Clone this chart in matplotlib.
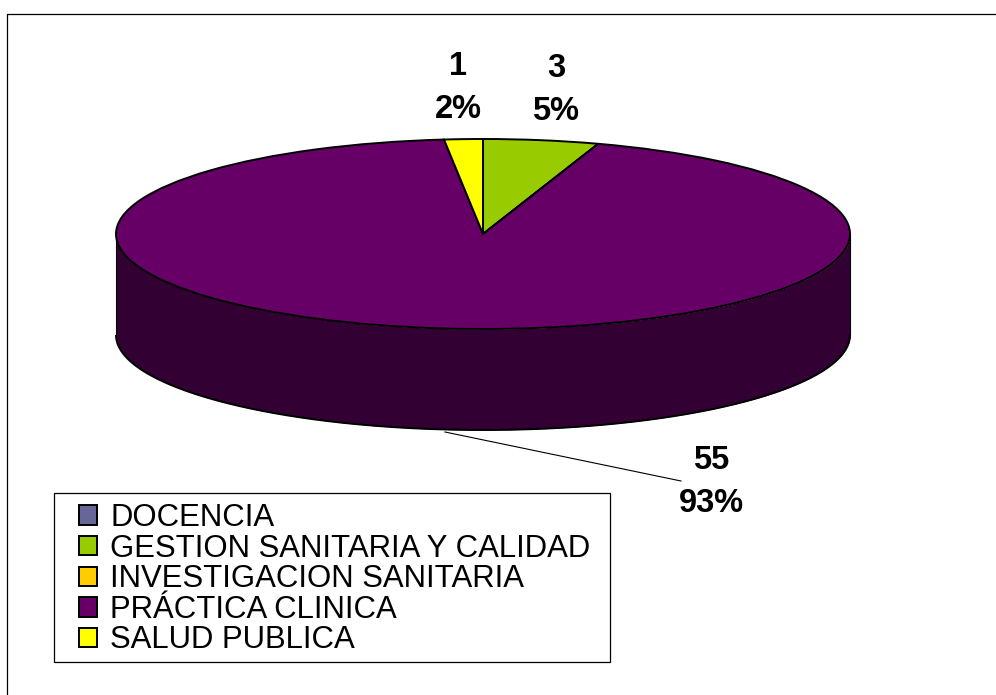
import numpy as np
import matplotlib
matplotlib.use('Agg')
import matplotlib.pyplot as plt
from matplotlib.patches import Patch, Rectangle
from matplotlib.transforms import Affine2D

categories = ['DOCENCIA', 'GESTION SANITARIA Y CALIDAD', 'INVESTIGACION SANITARIA',
              'PRÁCTICA CLINICA', 'SALUD PUBLICA']
values = [0, 3, 0, 55, 1]
colors = ['#666699', '#99CC00', '#FFCC00', '#660066', '#FFFF00']
side_color = '#330033'

W, H = 996, 695
cx, cy = 483, 234      # pie centre in pixels
rx, ry = 367, 95       # ellipse radii
depth = 101

plt.rcParams['font.family'] = ['Liberation Sans', 'DejaVu Sans']
fig = plt.figure(figsize=(W / 100, H / 100), dpi=100)
ax = fig.add_axes([0, 0, 1, 1])

# pixel coords, y going down
px = Affine2D().scale(1 / W, -1 / H).translate(0, 1) + fig.transFigure

# side of the pie
t = np.linspace(0, np.pi, 300)
xs = np.cos(t)
low = -np.sin(t)
d = depth / ry
ax.fill_between(xs, low, low - d, color=side_color, lw=0, zorder=1)
ax.plot(xs, low - d, color='black', lw=1.4, zorder=2, solid_capstyle='butt')
ax.plot([-1, -1], [0, -d], color='black', lw=0.8, zorder=2, solid_capstyle='butt')
ax.plot([1, 1], [0, -d], color='black', lw=0.8, zorder=2, solid_capstyle='butt')

# top of the pie, unit circle stretched by the axes limits
ax.pie(values, colors=colors, startangle=90, counterclock=False, radius=1,
       wedgeprops={'edgecolor': 'black', 'linewidth': 1.4, 'zorder': 3})
ax.set_aspect('auto')
ax.set_xlim(-cx / rx, (W - cx) / rx)
ax.set_ylim(-(H - cy) / ry, cy / ry)
ax.axis('off')

# chart border
fig.add_artist(Rectangle((7, 14), W, H, transform=px, fill=False, edgecolor='black', lw=0.9))

# data labels
total = sum(values)
label_pos = {1: (556, 90), 3: (711, 482), 4: (458, 88)}
for i, (lx, ly) in label_pos.items():
    pct = round(values[i] / total * 100)
    fig.text(lx, ly, f'{values[i]}\n{pct}%', transform=px, ha='center', va='center',
             fontsize=23.5, fontweight='bold', linespacing=1.48)

# leader line for the big slice
fig.add_artist(plt.Line2D([445, 681], [432, 481], transform=px, color='black', lw=0.8))

# legend
fig.add_artist(Rectangle((54, 493), 556, 169, transform=px, facecolor='white',
                         edgecolor='black', lw=0.9, zorder=4))
handles = [Patch(facecolor=c, edgecolor='black', lw=1.4) for c in colors]
leg = fig.legend(handles, categories, loc='upper left', bbox_to_anchor=(79, 503),
                 bbox_transform=px, frameon=False, fontsize=22.4, borderpad=0, borderaxespad=0,
                 handlelength=0.58, handleheight=0.58, handletextpad=0.42, labelspacing=0.02)
leg.set_zorder(5)

fig.savefig('out.png', dpi=100)
